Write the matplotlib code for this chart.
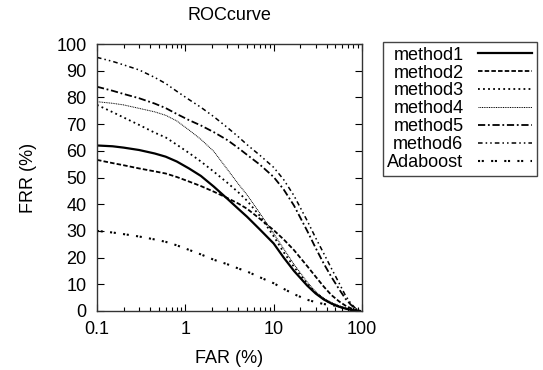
import matplotlib
matplotlib.use("Agg")
import matplotlib.pyplot as plt
from matplotlib.ticker import FixedLocator, NullFormatter, LogLocator

plt.rcParams['font.family'] = ['Liberation Sans', 'DejaVu Sans']

far = [0.1, 0.15, 0.2, 0.3, 0.45, 0.6, 0.8, 1.1, 1.5, 2.1, 3, 4, 5, 7, 10,
       13, 17, 24, 30, 37, 45, 55, 65, 75, 85, 95]

method1 = [62.0, 61.7, 61.2, 60.3, 59.0, 57.8, 56.0, 53.4, 50.6, 46.6, 42.0, 38.2, 35.3,
           30.5, 25.3, 20.0, 15.0, 9.5, 6.5, 4.3, 2.8, 1.6, 0.9, 0.4, 0.1, 0.0]
method2 = [56.6, 55.4, 54.6, 53.4, 52.3, 51.5, 50.2, 48.5, 46.8, 44.7, 42.3, 40.2, 38.3,
           34.5, 30.3, 26.8, 22.8, 16.8, 12.8, 9.1, 6.0, 3.6, 2.0, 1.0, 0.3, 0.0]
method3 = [77.2, 74.5, 72.5, 69.7, 66.8, 65.0, 62.3, 59.2, 56.0, 52.2, 48.0, 44.4, 41.3,
           35.6, 28.0, 22.0, 16.5, 10.2, 6.8, 4.4, 2.8, 1.6, 0.9, 0.4, 0.1, 0.0]
method4 = [78.4, 77.8, 77.2, 75.9, 74.6, 73.3, 71.2, 67.8, 64.3, 59.8, 53.0, 47.5, 43.5,
           36.6, 29.0, 23.3, 17.5, 10.8, 7.2, 4.8, 3.2, 2.0, 1.2, 0.6, 0.2, 0.0]
method5 = [84.0, 82.5, 81.3, 79.7, 77.7, 76.0, 73.8, 71.5, 69.5, 67.0, 64.0, 61.0, 58.5,
           54.8, 50.2, 45.5, 39.5, 30.0, 23.5, 17.7, 12.8, 8.2, 4.6, 2.3, 0.8, 0.0]
method6 = [95.0, 93.5, 92.2, 90.3, 87.5, 85.2, 82.3, 79.2, 76.3, 72.8, 68.7, 65.2, 62.3,
           58.3, 53.8, 49.2, 43.2, 33.8, 27.3, 21.5, 16.0, 10.5, 5.8, 2.8, 0.9, 0.0]

far_ada = [0.1, 0.15, 0.2, 0.3, 0.45, 0.6, 0.8, 1.1, 1.5, 2.1, 3, 4, 5, 7, 10,
           13, 17, 24, 30, 37, 45, 55]
adaboost = [30.0, 29.4, 28.8, 27.9, 26.8, 25.9, 24.6, 22.9, 21.2, 19.2, 17.5, 15.9, 14.8,
            12.6, 10.4, 8.3, 6.3, 4.2, 3.3, 2.6, 2.2, 1.8]

xticks = [0.1, 1, 10, 100]
xtick_labels = ["0.1", "1", "10", "100"]
yticks = list(range(0, 101, 10))

fig = plt.figure(figsize=(5.43, 3.70), dpi=100)
ax = fig.add_axes([0.1786, 0.1595, 0.488, 0.7215])

ax.plot(far, method1, color='black', lw=1.6, ls='-', label='method1')
ax.plot(far, method2, color='black', lw=1.3, ls=(0, (2.5, 1.2)), label='method2')
ax.plot(far, method3, color='black', lw=1.3, ls=(0, (1, 1.8)), label='method3')
ax.plot(far, method4, color='black', lw=0.7, ls=(0, (1, 0.8)), label='method4')
ax.plot(far, method5, color='black', lw=1.3, ls=(0, (4, 1.5, 1, 1.5)), label='method5')
ax.plot(far, method6, color='black', lw=1.1, ls=(0, (3, 2, 1, 2, 1, 2)), label='method6')
ax.plot(far_ada, adaboost, color='black', lw=1.5, ls=(0, (1, 0.8, 1, 3.5)), label='Adaboost')

ax.set_xscale('log')
ax.set_xlim(0.1, 100)
ax.set_ylim(0, 100)
ax.xaxis.set_major_locator(FixedLocator(xticks))
ax.set_xticklabels(xtick_labels)
ax.xaxis.set_minor_locator(LogLocator(base=10, subs=range(2, 10)))
ax.xaxis.set_minor_formatter(NullFormatter())
ax.set_yticks(yticks)

ax.tick_params(which='both', direction='in', top=True, right=True, labelsize=13,
               width=0.8, colors='black')
ax.tick_params(which='major', length=5, pad=7.5)
ax.tick_params(which='minor', length=3)
for s in ax.spines.values():
    s.set_linewidth(1.0)
    s.set_color('#333333')

ax.set_xlabel('FAR (%)', fontsize=13, labelpad=8)
ax.set_ylabel('FRR (%)', fontsize=13, labelpad=14)
ax.set_title('ROCcurve', fontsize=13, pad=17)

leg = ax.legend(loc='upper left', bbox_to_anchor=(0.705, 0.886),
                bbox_transform=fig.transFigure, markerfirst=False,
                fancybox=False, edgecolor='#444444', framealpha=1,
                fontsize=13, handlelength=3.0, handletextpad=0.8,
                labelspacing=0.05, borderpad=0.25, borderaxespad=0)
leg.get_frame().set_linewidth(1.0)

fig.savefig('out.png', dpi=100)
